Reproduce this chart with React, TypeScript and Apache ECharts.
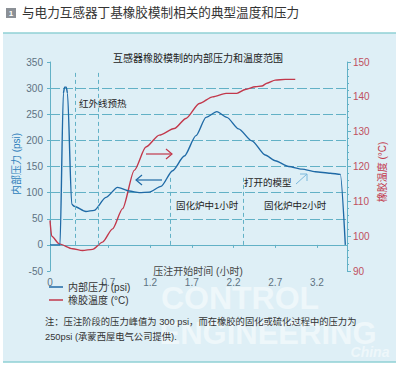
import React, { useEffect, useRef } from "react";
import * as echarts from "echarts";

// Internal pressure (psi) vs time (hours)
const pressureTimes = [0, 0.12, 0.16, 0.175, 0.195, 0.21, 0.26, 0.29, 0.43, 0.53, 0.67, 0.81, 0.95, 1.07, 1.19, 1.33, 1.47, 1.61, 1.75, 1.87, 2.0, 2.12, 2.26, 2.42, 2.58, 2.7, 2.86, 3.02, 3.18, 3.36, 3.48, 3.54];
const pressureValues = [0, 0, 290, 302, 302, 290, 78, 74, 64, 66, 91, 110, 103, 100, 101, 112, 142, 170, 209, 244, 255, 244, 222, 199, 172, 161, 150, 145, 140, 137, 135, 0];

// Rubber temperature (°C) vs time (hours)
const tempTimes = [0, 0.02, 0.11, 0.27, 0.39, 0.51, 0.63, 0.75, 0.87, 1.01, 1.15, 1.31, 1.49, 1.63, 1.79, 1.95, 2.11, 2.24, 2.34, 2.46, 2.54, 2.6, 2.7, 2.82, 2.94];
const tempValues = [104.5, 100, 97.8, 96.4, 95.9, 96.2, 98.3, 102.1, 107.9, 118.9, 125.6, 129.0, 130.9, 133.8, 138.1, 140.0, 141.0, 141.0, 142.1, 142.9, 143.1, 143.9, 144.8, 145.0, 145.0];

// Phase boundary markers (time, top of dashed line in psi)
const phaseTimes = [0.3, 0.58, 1.44, 2.32];
const phaseTops = [331, 331, 130, 130];

// Tick labels
const xTickValues = [0, 0.7, 1.2, 1.7, 2.2, 2.7, 3.2];

const seriesNames = ["内部压力 (psi)", "橡胶温度 (°C)"];

const FONT = "'Liberation Sans', 'Noto Sans CJK SC', sans-serif";
const WMFONT = "'Liberation Sans', sans-serif";
const BLUE = "#1f6aa6";
const RED = "#c2384b";
const TEAL = "#62b1c6";
const PANEL = "#deeff6";

export default function App() {
  const ref = useRef<HTMLDivElement>(null);

  useEffect(() => {
    document.body.style.margin = "0";
    if (!ref.current) return;
    const chart = echarts.init(ref.current, null, { renderer: "svg" });

    const clear = "rgba(0,0,0,0)";
    const gridColors = [clear, TEAL, TEAL, TEAL, TEAL, TEAL, TEAL, TEAL, clear];
    const wm = "rgba(255,255,255,0.5)";

    const option: any = {
      animation: false,
      textStyle: { fontFamily: FONT },
      grid: { left: 50, right: 53, top: 62, bottom: 99, containLabel: false },
      legend: {
        orient: "vertical",
        left: 44,
        top: 277,
        icon: "rect",
        itemWidth: 14,
        itemHeight: 1.5,
        itemGap: 3,
        data: seriesNames,
        textStyle: { fontSize: 10, color: "#333", fontFamily: FONT },
      },
      xAxis: {
        type: "value",
        min: 0,
        max: 3.56,
        axisLine: { onZero: true, onZeroAxisIndex: 0, lineStyle: { color: TEAL, width: 1 } },
        axisTick: { show: true, length: 3, customValues: xTickValues, lineStyle: { color: TEAL } },
        axisLabel: { customValues: xTickValues, fontSize: 10, color: "#5d7282", margin: 6, fontFamily: FONT },
        splitLine: { show: false },
      },
      yAxis: [
        {
          type: "value",
          min: -50,
          max: 350,
          interval: 50,
          position: "left",
          axisLine: { show: true, onZero: false, lineStyle: { color: TEAL } },
          axisTick: { show: true, length: 3, lineStyle: { color: TEAL } },
          axisLabel: { fontSize: 10, color: "#5d7282", margin: 7, fontFamily: FONT },
          splitLine: { show: true, lineStyle: { color: gridColors, width: 1, type: [10, 3] } },
        },
        {
          type: "value",
          min: 90,
          max: 150,
          interval: 10,
          position: "right",
          axisLine: { show: true, onZero: false, lineStyle: { color: TEAL } },
          axisTick: { show: true, length: 4, lineStyle: { color: TEAL } },
          minorTick: { show: true, splitNumber: 5, length: 2, lineStyle: { color: TEAL } },
          axisLabel: { fontSize: 10, color: "#c0505e", margin: 6, fontFamily: FONT },
          splitLine: { show: false },
        },
      ],
      series: [
        {
          name: seriesNames[0],
          type: "line",
          yAxisIndex: 0,
          showSymbol: false,
          smooth: 0.25,
          smoothMonotone: "x",
          lineStyle: { color: BLUE, width: 1.4 },
          itemStyle: { color: BLUE },
          data: pressureTimes.map((t, i) => [t, pressureValues[i]]),
          markLine: {
            silent: true,
            symbol: "none",
            label: { show: false },
            lineStyle: { color: TEAL, width: 1, type: [4, 3] },
            data: phaseTimes.map((t, i) => [{ coord: [t, 0] }, { coord: [t, phaseTops[i]] }]),
          },
          z: 3,
        },
        {
          name: seriesNames[1],
          type: "line",
          yAxisIndex: 1,
          showSymbol: false,
          smooth: 0.25,
          smoothMonotone: "x",
          lineStyle: { color: RED, width: 1.4 },
          itemStyle: { color: RED },
          data: tempTimes.map((t, i) => [t, tempValues[i]]),
          z: 2,
        },
      ],
      graphic: [
        // panel background
        { type: "rect", z: -10, shape: { x: 3, y: 33, width: 393, height: 329 }, style: { fill: PANEL } },
        { type: "line", z: -9, shape: { x1: 3, y1: 33, x2: 396, y2: 33 }, style: { stroke: "#8fd0d4", lineWidth: 1.5 } },
        { type: "line", z: -9, shape: { x1: 3, y1: 362, x2: 396, y2: 362 }, style: { stroke: "#8fd0d4", lineWidth: 1.5 } },
        // watermark
        { type: "text", z: -8, silent: true, x: 240, y: 298, style: { text: "CONTROL", fill: wm, font: `bold 32px ${WMFONT}`, align: "center", verticalAlign: "middle" } },
        { type: "text", z: -8, silent: true, x: 268, y: 333, style: { text: "ENGINEERING", fill: wm, font: `bold 31px ${WMFONT}`, align: "center", verticalAlign: "middle" } },
        { type: "text", z: -8, silent: true, x: 370, y: 352, style: { text: "China", fill: wm, font: `italic bold 14px ${WMFONT}`, align: "center", verticalAlign: "middle" } },
        // header
        { type: "rect", shape: { x: 6, y: 8, width: 10, height: 10 }, style: { fill: "#8b9096" } },
        { type: "text", x: 11, y: 13, style: { text: "1", fill: "#fff", font: `bold 8px ${FONT}`, align: "center", verticalAlign: "middle" } },
        { type: "text", x: 22, y: 13, style: { text: "与电力互感器丁基橡胶模制相关的典型温度和压力", fill: "#333", font: `12.6px ${FONT}`, verticalAlign: "middle" } },
        // inner title
        { type: "text", x: 198, y: 58, style: { text: "互感器橡胶模制的内部压力和温度范围", fill: "#222", font: `10px ${FONT}`, align: "center", verticalAlign: "middle" } },
        // axis names
        { type: "text", x: 16, y: 164, rotation: Math.PI / 2, style: { text: "内部压力 (psi)", fill: "#2f7fbb", font: `10px ${FONT}`, align: "center", verticalAlign: "middle" } },
        { type: "text", x: 382, y: 172, rotation: Math.PI / 2, style: { text: "橡胶温度 (°C)", fill: "#c2384b", font: `10px ${FONT}`, align: "center", verticalAlign: "middle" } },
        { type: "text", x: 198, y: 271, style: { text: "压注开始时间 (小时)", fill: "#444", font: `10px ${FONT}`, align: "center", verticalAlign: "middle" } },
        // annotations
        { type: "text", x: 79, y: 103, style: { text: "红外线预热", fill: "#222", font: `9.5px ${FONT}`, verticalAlign: "middle" } },
        { type: "text", x: 176, y: 205, style: { text: "固化炉中1小时", fill: "#222", font: `9.5px ${FONT}`, verticalAlign: "middle" } },
        { type: "text", x: 264, y: 205, style: { text: "固化炉中2小时", fill: "#222", font: `9.5px ${FONT}`, verticalAlign: "middle" } },
        { type: "text", x: 244, y: 182, style: { text: "打开的模型", fill: "#222", font: `9.5px ${FONT}`, verticalAlign: "middle" } },
        // arrows
        { type: "polyline", shape: { points: [[146, 154], [172, 154]] }, style: { stroke: RED, lineWidth: 1.2, fill: "none" } },
        { type: "polyline", shape: { points: [[166, 149], [172, 154], [166, 159]] }, style: { stroke: RED, lineWidth: 1.2, fill: "none" } },
        { type: "polyline", shape: { points: [[162, 180], [136, 180]] }, style: { stroke: BLUE, lineWidth: 1.2, fill: "none" } },
        { type: "polyline", shape: { points: [[142, 175], [136, 180], [142, 185]] }, style: { stroke: BLUE, lineWidth: 1.2, fill: "none" } },
        { type: "polyline", shape: { points: [[296, 184], [307, 174]] }, style: { stroke: "#7ab8dc", lineWidth: 1, fill: "none" } },
        { type: "polyline", shape: { points: [[300, 174], [307, 174], [307, 181]] }, style: { stroke: "#7ab8dc", lineWidth: 1, fill: "none" } },
        // note
        { type: "text", x: 45, y: 322, style: { text: "注：压注阶段的压力峰值为 300 psi，而在橡胶的固化或硫化过程中的压力为", fill: "#333", font: `9.3px ${FONT}`, verticalAlign: "middle" } },
        { type: "text", x: 45, y: 337, style: { text: "250psi (承蒙西屋电气公司提供).", fill: "#333", font: `9.3px ${FONT}`, verticalAlign: "middle" } },
      ],
    };

    chart.setOption(option);
    return () => chart.dispose();
  }, []);

  return <div ref={ref} style={{ width: 400, height: 370 }} />;
}
